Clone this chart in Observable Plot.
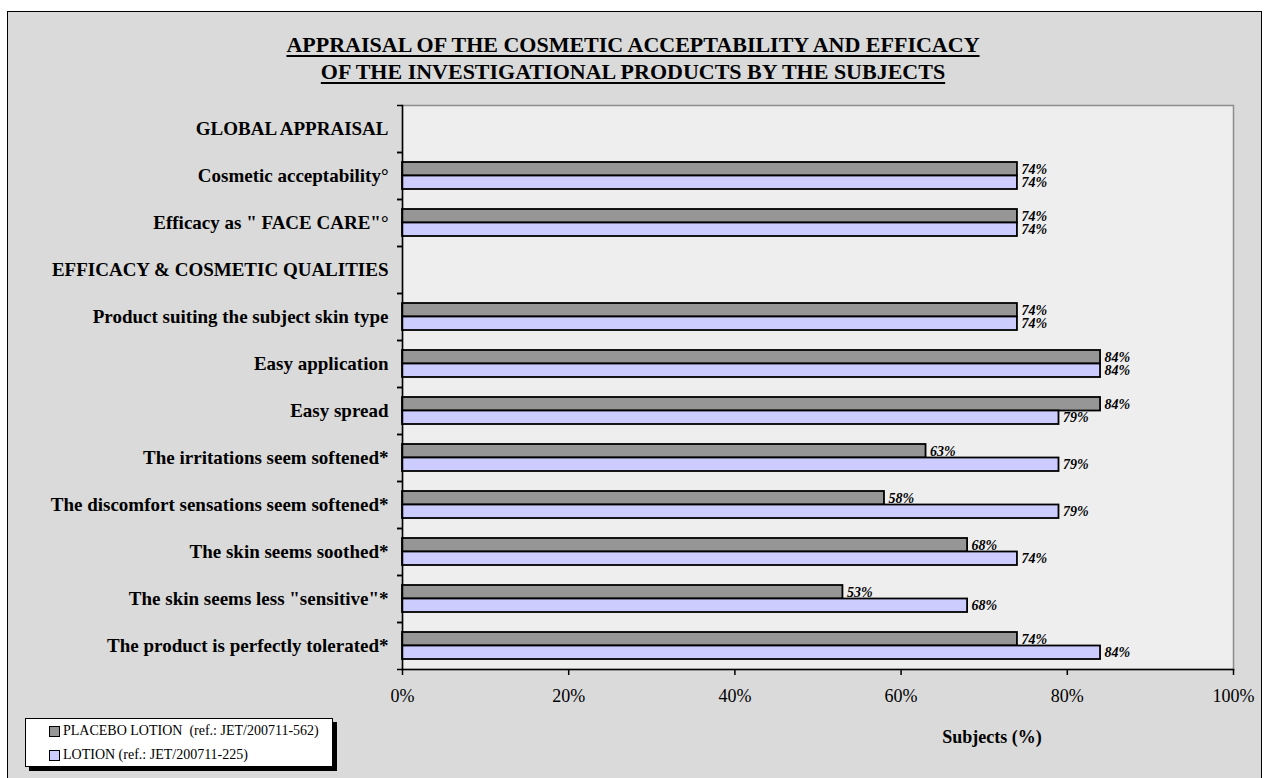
<!DOCTYPE html>
<html>
<head>
<meta charset="utf-8">
<script src="https://cdn.jsdelivr.net/npm/d3@7"></script>
<script src="https://cdn.jsdelivr.net/npm/@observablehq/plot@0.6"></script>
<style>
  body { margin: 0; background: #fff; font-family: "Liberation Serif", "Times New Roman", serif; }
  #wrap { position: relative; width: 1266px; height: 778px; overflow: hidden; }
  #bg { position: absolute; left: 7px; top: 11px; width: 1255px; height: 800px; border: 1.5px solid #000; background: #dadada; box-sizing: border-box; }
  #chart { position: absolute; left: 0; top: 0; }
  #title { position: absolute; left: 0; top: 31px; width: 1266px; text-align: center; font-weight: bold; font-size: 22px; line-height: 27px; }
  #title span { text-decoration: underline; text-decoration-thickness: 2px; text-underline-offset: 3px; }
  #xlabel { position: absolute; left: 892px; width: 200px; top: 727px; text-align: center; font-weight: bold; font-size: 18px; }
  #legend { position: absolute; left: 25px; top: 718px; width: 308px; height: 49px; background: #fff; border: 1px solid #000; box-shadow: 4px 4px 0 #000; box-sizing: border-box; }
  .item { position: absolute; left: 23px; font-size: 14px; white-space: pre; display: flex; align-items: center; }
  .sw { display: inline-block; width: 9px; height: 9px; border: 1px solid #000; margin-right: 3px; }
</style>
</head>
<body>
<div id="wrap">
  <div id="bg"></div>
  <div id="chart"></div>
  <div id="title"></div>
  <div id="xlabel"></div>
  <div id="legend"></div>
</div>
<script>
const titleLines = ["APPRAISAL OF THE COSMETIC ACCEPTABILITY AND EFFICACY", "OF THE INVESTIGATIONAL PRODUCTS BY THE SUBJECTS"];
const categories = [
  "GLOBAL APPRAISAL",
  "Cosmetic acceptability°",
  "Efficacy as \" FACE CARE\"°",
  "EFFICACY & COSMETIC QUALITIES",
  "Product suiting the subject skin type",
  "Easy application",
  "Easy spread",
  "The irritations seem softened*",
  "The discomfort sensations seem softened*",
  "The skin seems soothed*",
  "The skin seems less \"sensitive\"*",
  "The product is perfectly tolerated*"
];
const items = [
  "Cosmetic acceptability°",
  "Efficacy as \" FACE CARE\"°",
  "Product suiting the subject skin type",
  "Easy application",
  "Easy spread",
  "The irritations seem softened*",
  "The discomfort sensations seem softened*",
  "The skin seems soothed*",
  "The skin seems less \"sensitive\"*",
  "The product is perfectly tolerated*"
];
const placebo = [74, 74, 74, 84, 84, 63, 58, 68, 53, 74];
const lotion  = [74, 74, 74, 84, 79, 79, 79, 74, 68, 84];
const seriesNames = ["PLACEBO LOTION  (ref.: JET/200711-562)", "LOTION (ref.: JET/200711-225)"];
const seriesColors = ["#969696", "#ccccff"];
const xTicks = [0, 20, 40, 60, 80, 100];
const xLabel = "Subjects (%)";

const placeboData = items.map((c, i) => ({cat: c, value: placebo[i]}));
const lotionData = items.map((c, i) => ({cat: c, value: lotion[i]}));

const half = 23.5;
const chart = Plot.plot({
  width: 1266,
  height: 778,
  marginLeft: 402,
  marginRight: 33,
  marginTop: 105,
  marginBottom: 109,
  style: {background: "transparent", fontFamily: "Liberation Serif, Times New Roman, serif", color: "#000"},
  x: {domain: [0, 100]},
  y: {domain: categories, padding: 0},
  marks: [
    Plot.frame({fill: "#eeeeee", stroke: "#8c8c8c", strokeWidth: 1.5}),
    Plot.barX(placeboData, {x: "value", y: "cat", fill: seriesColors[0], stroke: "#000", strokeWidth: 1.8, insetTop: 10, insetBottom: 23.5}),
    Plot.barX(lotionData, {x: "value", y: "cat", fill: seriesColors[1], stroke: "#000", strokeWidth: 1.8, insetTop: 23.5, insetBottom: 10}),
    Plot.text(placeboData, {x: "value", y: "cat", text: d => d.value + "%", dx: 4, dy: -6.75, textAnchor: "start", fontStyle: "italic", fontWeight: "bold", fontSize: 14}),
    Plot.text(lotionData, {x: "value", y: "cat", text: d => d.value + "%", dx: 4, dy: 6.75, textAnchor: "start", fontStyle: "italic", fontWeight: "bold", fontSize: 14}),
    Plot.axisY({tickSize: 0, tickPadding: 14, fontSize: 19, fontWeight: "bold", label: null}),
    Plot.axisY({tickSize: 5, tickFormat: () => "", dy: -half, label: null, strokeWidth: 1.5}),
    Plot.axisY({tickSize: 5, tickFormat: () => "", dy: half, label: null, strokeWidth: 1.5}),
    Plot.axisX({ticks: xTicks, tickFormat: d => d + "%", tickSize: 6, tickPadding: 14, fontSize: 18, label: null, strokeWidth: 1.5}),
    Plot.frame({anchor: "left", stroke: "#000", strokeWidth: 1.5}),
    Plot.frame({anchor: "bottom", stroke: "#000", strokeWidth: 1.5})
  ]
});
document.getElementById("chart").appendChild(chart);

document.getElementById("title").innerHTML = titleLines.map(t => `<span>${t}</span>`).join("<br>");
document.getElementById("xlabel").textContent = xLabel;
const leg = document.getElementById("legend");
seriesNames.forEach((n, i) => {
  const d = document.createElement("div");
  d.className = "item";
  d.style.top = (i === 0 ? 4 : 28) + "px";
  d.innerHTML = `<span class="sw" style="background:${seriesColors[i]}"></span><span></span>`;
  d.lastChild.textContent = n;
  leg.appendChild(d);
});
</script>
</body>
</html>
